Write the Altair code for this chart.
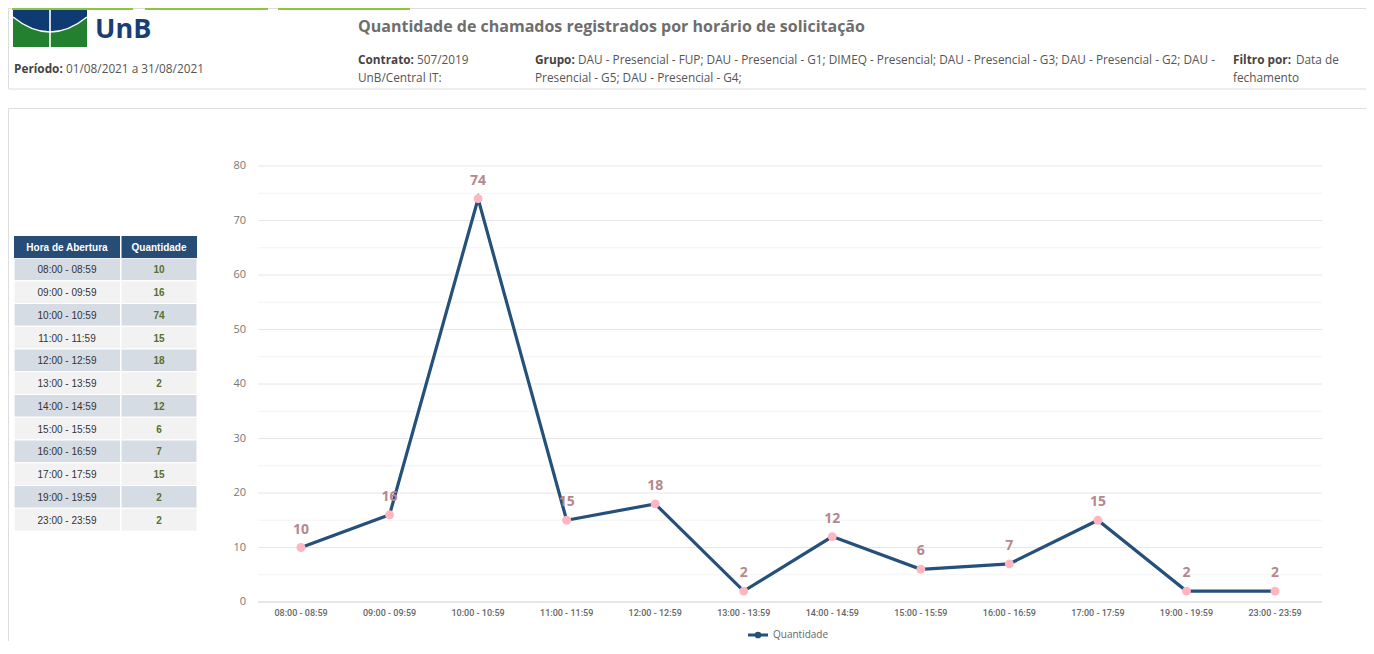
import altair as alt
import pandas as pd

# ---------------- data ----------------
horas = ["08:00 - 08:59", "09:00 - 09:59", "10:00 - 10:59", "11:00 - 11:59",
         "12:00 - 12:59", "13:00 - 13:59", "14:00 - 14:59", "15:00 - 15:59",
         "16:00 - 16:59", "17:00 - 17:59", "19:00 - 19:59", "23:00 - 23:59"]
quantidade = [10, 16, 74, 15, 18, 2, 12, 6, 7, 15, 2, 2]
y_ticks = [0, 10, 20, 30, 40, 50, 60, 70, 80]
y_minor = [5, 15, 25, 35, 45, 55, 65, 75]

titulo = "Quantidade de chamados registrados por horário de solicitação"
periodo = "01/08/2021 a 31/08/2021"
contrato = "507/2019"
contrato2 = "UnB/Central IT:"
grupo1 = "DAU - Presencial - FUP; DAU - Presencial - G1; DIMEQ - Presencial; DAU - Presencial - G3; DAU - Presencial - G2; DAU -"
grupo2 = "Presencial - G5; DAU - Presencial - G4;"
filtro1 = "Data de"
filtro2 = "fechamento"
serie = "Quantidade"

# ---------------- helpers (page coords -> view coords) ----------------
M = 8
one = pd.DataFrame({"a": [0]})
FONT = "Open Sans"
HS = 11.8  # header text size

def rect(x, x2, y, y2, **kw):
    return alt.Chart(one).mark_rect(**kw).encode(
        x=alt.value(x - M), x2=alt.value(x2 - M), y=alt.value(y - M), y2=alt.value(y2 - M))

def txt(s, x, y, size=HS, weight="normal", color="#555555", font=FONT,
        align="left", baseline="alphabetic"):
    return alt.Chart(one).mark_text(text=s, fontSize=size, fontWeight=weight, color=color,
                                    font=font, align=align, baseline=baseline).encode(
        x=alt.value(x - M), y=alt.value(y - M))

layers = []

# ---------------- header ----------------
BLUE = "#0f3b73"
GREEN = "#22802e"
# logo: 74 x 37 box centred at (50, 28.5); custom symbol scaled by sqrt(size)/2 = 37
LOGO_SIZE = 74 * 74
layers.append(rect(13, 87, 10, 47, color=GREEN))
layers.append(alt.Chart(one).mark_point(
    shape="M -1 -0.5 L 1 -0.5 L 1 -0.31 Q 0 0.5 -1 -0.31 Z",
    size=LOGO_SIZE, filled=True, color=BLUE, opacity=1, strokeWidth=0).encode(
    x=alt.value(50 - M), y=alt.value(28.5 - M)))
layers.append(alt.Chart(one).mark_point(
    shape="M -1 -0.31 Q 0 0.5 1 -0.31",
    size=LOGO_SIZE, filled=False, color="white", opacity=1, strokeWidth=1.4).encode(
    x=alt.value(50 - M), y=alt.value(28.5 - M)))
layers.append(rect(49.2, 50.8, 10, 47, color="white"))
layers.append(txt("UnB", 95, 37.5, size=27, weight="bold", color="#1a3e73"))

# boxes
layers.append(rect(8.5, 1400, 8.5, 89, fillOpacity=0, stroke="#dddddd", strokeWidth=1))
layers.append(rect(8.5, 1400, 108.5, 700, fillOpacity=0, stroke="#dddddd", strokeWidth=1))
# green tabs
for a, b in [(12, 133), (145, 268), (278, 410)]:
    layers.append(rect(a, b, 8, 10, color="#8cc63f"))

layers.append(txt(titulo, 358, 31.5, size=16, weight="bold", color="#6e6e6e"))
layers.append(txt("Período:", 14, 73, weight="bold", color="#444444"))
layers.append(txt(periodo, 66, 73))
layers.append(txt("Contrato:", 358, 64, weight="bold", color="#444444"))
layers.append(txt(contrato, 417, 64))
layers.append(txt(contrato2, 358, 82))
layers.append(txt("Grupo:", 535, 64, weight="bold", color="#444444"))
layers.append(txt(grupo1, 578, 64))
layers.append(txt(grupo2, 535, 82))
layers.append(txt("Filtro por:", 1233, 64, weight="bold", color="#444444"))
layers.append(txt(filtro1, 1296, 64))
layers.append(txt(filtro2, 1233, 82))

# ---------------- table ----------------
df = pd.DataFrame({"hora": horas, "qtd": quantidade})
yband = alt.Scale(domain=horas, range=[258 - M, 531 - M], paddingInner=0, paddingOuter=0)
tb = alt.Chart(df).transform_window(row="row_number()").transform_calculate(
    cor="datum.row % 2 == 1 ? '#d6dce4' : '#f2f2f2'")
layers.append(tb.mark_rect(stroke="white", strokeWidth=1).encode(
    x=alt.value(14 - M), x2=alt.value(197 - M),
    y=alt.Y("hora:N", scale=yband, axis=None),
    color=alt.Color("cor:N", scale=None, legend=None)))
layers.append(rect(14, 197, 236, 258, color="#274c75"))
layers.append(rect(120, 121.5, 236, 531, color="white"))
layers.append(txt("Hora de Abertura", 67, 248, size=10, weight="bold", color="white",
                  font="Liberation Sans", align="center", baseline="middle"))
layers.append(txt("Quantidade", 159, 248, size=10, weight="bold", color="white",
                  font="Liberation Sans", align="center", baseline="middle"))
layers.append(tb.mark_text(font="Liberation Sans", fontSize=10, color="#333333",
                           baseline="middle", dy=1).encode(
    x=alt.value(67 - M), y=alt.Y("hora:N", scale=yband, axis=None), text="hora:N"))
layers.append(tb.mark_text(font="Liberation Sans", fontSize=10, fontWeight="bold",
                           color="#55712e", baseline="middle", dy=1).encode(
    x=alt.value(159 - M), y=alt.Y("hora:N", scale=yband, axis=None), text="qtd:Q"))

# ---------------- line chart ----------------
xs = alt.Scale(type="point", domain=horas, range=[301 - M, 1275 - M], padding=0)
ys = alt.Scale(domain=[0, 80], range=[602 - M, 166 - M], nice=False, zero=False)
X0, X1 = 258 - M, 1322 - M

dminor = pd.DataFrame({"v": y_minor})
dmajor = pd.DataFrame({"v": y_ticks})
layers.append(alt.Chart(dminor).mark_rule(color="#f3f3f3", strokeWidth=1).encode(
    x=alt.value(X0), x2=alt.value(X1), y=alt.Y("v:Q", scale=ys, axis=None)))
layers.append(alt.Chart(dmajor).mark_rule(strokeWidth=1).encode(
    x=alt.value(X0), x2=alt.value(X1), y=alt.Y("v:Q", scale=ys, axis=None),
    color=alt.condition("datum.v == 0", alt.value("#cccccc"), alt.value("#e6e6e6"))))
layers.append(alt.Chart(dmajor).mark_text(font=FONT, fontSize=11, color="#777777",
                                          align="right", baseline="middle").encode(
    x=alt.value(246 - M), y=alt.Y("v:Q", scale=ys, axis=None), text="v:Q"))
layers.append(alt.Chart(df).mark_text(font="Roboto", fontSize=9, fontWeight=500,
                                      color="#666666", baseline="middle").encode(
    x=alt.X("hora:N", scale=xs, axis=None), y=alt.value(613 - M), text="hora:N"))

LINE = "#25507a"
base = alt.Chart(df).encode(x=alt.X("hora:N", scale=xs, axis=None),
                            y=alt.Y("qtd:Q", scale=ys, axis=None))
layers.append(base.mark_line(color=LINE, strokeWidth=3.2))
layers.append(base.mark_circle(color="#ffb6c1", size=80, opacity=1))
layers.append(base.mark_text(font=FONT, fontSize=14, fontWeight="bold", color="#b5888e",
                             dy=-18, baseline="middle").encode(text="qtd:Q"))

# legend
layers.append(rect(748, 768, 633.5, 636.5, color=LINE))
layers.append(alt.Chart(one).mark_circle(color=LINE, size=45, opacity=1).encode(
    x=alt.value(758 - M), y=alt.value(635 - M)))
layers.append(txt(serie, 773, 635, size=10, color="#666666", baseline="middle"))

chart = alt.layer(*layers).resolve_scale(
    x="independent", y="independent", color="independent"
).properties(
    width=1358, height=633, padding=0, autosize=alt.AutoSizeParams(type="none")
).configure_view(stroke=None)

chart.save("out.html", embed_options={"renderer": "svg", "actions": False})
